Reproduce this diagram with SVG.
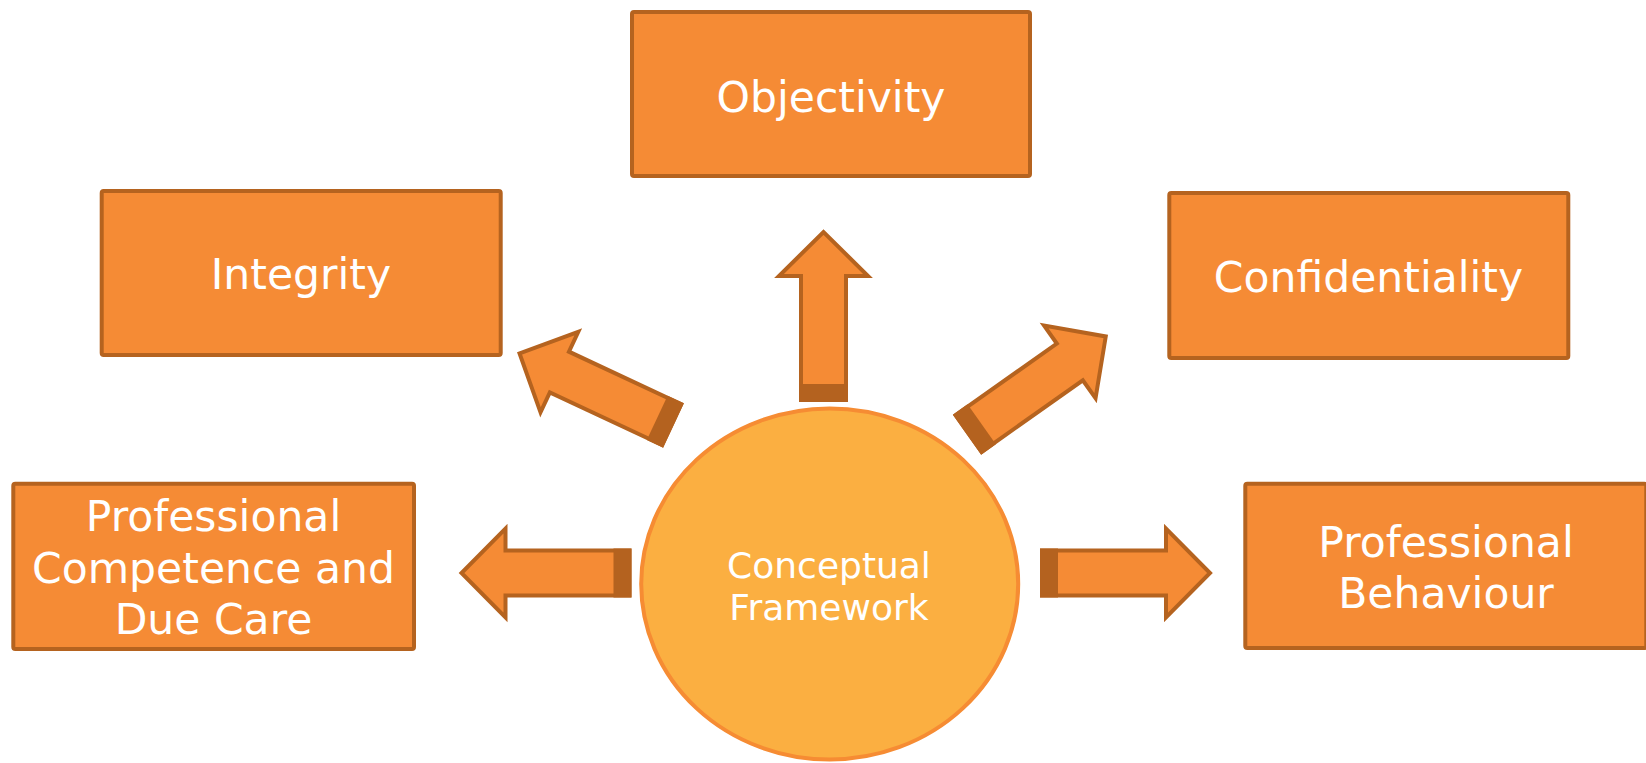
<svg xmlns="http://www.w3.org/2000/svg" xmlns:xlink="http://www.w3.org/1999/xlink" width="1646" height="763" viewBox="0 0 1646 763">
  <style>
    .box { fill: #F58B35; stroke: #B5631F; stroke-width: 4; }
    .hub { fill: #FBAF41; stroke: #F68C33; stroke-width: 4; }
    .label { font-family: "DejaVu Sans", Verdana, "Liberation Sans", sans-serif; font-size: 42.5px; fill: #FFFFFF; text-anchor: middle; }
    .hub-label { font-family: "DejaVu Sans", Verdana, "Liberation Sans", sans-serif; font-size: 36px; fill: #FFFFFF; text-anchor: middle; }
    .arrow-body { fill: #F58B35; stroke: #B5631F; stroke-width: 4; stroke-linejoin: miter; }
    .arrow-end { fill: #B4621F; }
  </style>
  <defs>
    <!-- block arrow pointing along +x, tail at the origin, with a darker extruded tail face -->
    <g id="block-arrow">
      <polygon class="arrow-body" points="2,-22.5 126,-22.5 126,-44.5 170,0 126,44.5 126,22.5 2,22.5"/>
      <rect class="arrow-end" x="0" y="-24.5" width="18" height="49"/>
    </g>
  </defs>

  <rect width="1646" height="763" fill="#FFFFFF"/>

  <g id="connectors">
    <use xlink:href="#block-arrow" href="#block-arrow" transform="translate(823.5,402) rotate(-90)"/>
    <use xlink:href="#block-arrow" href="#block-arrow" transform="translate(673.5,425.5) rotate(205.1)"/>
    <use xlink:href="#block-arrow" href="#block-arrow" transform="translate(967,434.7) rotate(-35.3)"/>
    <use xlink:href="#block-arrow" href="#block-arrow" transform="translate(631.5,573) rotate(180)"/>
    <use xlink:href="#block-arrow" href="#block-arrow" transform="translate(1040,573)"/>
  </g>

  <g id="objectivity">
    <rect class="box" x="632" y="12" width="398" height="164" rx="2"/>
    <text class="label" x="831" y="112">Objectivity</text>
  </g>

  <g id="integrity">
    <rect class="box" x="101.7" y="191" width="399" height="164" rx="2"/>
    <text class="label" x="301" y="288.5">Integrity</text>
  </g>

  <g id="confidentiality">
    <rect class="box" x="1169.3" y="193" width="399" height="165" rx="2"/>
    <text class="label" x="1368.5" y="292">Confidentiality</text>
  </g>

  <g id="professional-competence">
    <rect class="box" x="13.3" y="483.7" width="400.7" height="165.3" rx="2"/>
    <text class="label" x="213.5" y="531">Professional</text>
    <text class="label" x="213.5" y="582.5">Competence and</text>
    <text class="label" x="213.5" y="634">Due Care</text>
  </g>

  <g id="professional-behaviour">
    <rect class="box" x="1245.3" y="483.7" width="401" height="164.3" rx="2"/>
    <text class="label" x="1446" y="557">Professional</text>
    <text class="label" x="1446" y="608">Behaviour</text>
  </g>

  <g id="conceptual-framework">
    <ellipse class="hub" cx="829.7" cy="584" rx="188.5" ry="175.5"/>
    <text class="hub-label" x="829" y="577.7">Conceptual</text>
    <text class="hub-label" x="829" y="620">Framework</text>
  </g>
</svg>
